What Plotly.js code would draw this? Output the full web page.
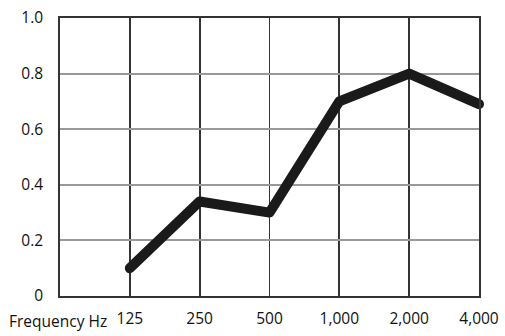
<!DOCTYPE html>
<html>
<head>
<meta charset="utf-8">
<script src="https://cdn.plot.ly/plotly-3.0.1.min.js"></script>
<style>html,body{margin:0;padding:0;background:#fff;}</style>
</head>
<body>
<div id="chart" style="width:505px;height:336px;"></div>
<script>
const frequencies = ["125", "250", "500", "1,000", "2,000", "4,000"];
const absorption = [0.10, 0.34, 0.30, 0.70, 0.80, 0.69];
const yTickVals = [0, 0.2, 0.4, 0.6, 0.8, 1.0];
const yTickText = ["0", "0.2", "0.4", "0.6", "0.8", "1.0"];
const xAxisLabel = "Frequency Hz";

const font = {family: "Open Sans, Noto Sans, sans-serif", size: 15.5, color: "#111"};

Plotly.newPlot("chart", [{
  x: frequencies,
  y: absorption,
  type: "scatter",
  mode: "lines",
  cliponaxis: false,
  line: {color: "#1a1a1a", width: 10},
  hoverinfo: "skip"
}], {
  width: 505, height: 336,
  margin: {l: 60, r: 25.5, t: 18, b: 39.5},
  paper_bgcolor: "#fff", plot_bgcolor: "#fff",
  showlegend: false,
  font: font,
  xaxis: {
    type: "category", range: [-1, 5],
    showgrid: true, gridcolor: "#333", gridwidth: 1.8,
    showline: true, linecolor: "#333", linewidth: 1.8, mirror: true,
    ticks: "", ticklabelstandoff: 8, zeroline: false,
    tickfont: font
  },
  yaxis: {
    range: [0, 1.0], tickvals: yTickVals, ticktext: yTickText,
    showgrid: true, gridcolor: "#999", gridwidth: 2,
    showline: true, linecolor: "#333", linewidth: 1.8, mirror: true,
    ticks: "", ticklabelstandoff: 12, zeroline: false,
    tickfont: font
  },
  annotations: [{
    text: xAxisLabel, xref: "paper", yref: "paper",
    x: -0.127, y: 0, xanchor: "left", yanchor: "top", yshift: -12,
    showarrow: false, font: font
  }]
}, {staticPlot: true}).then(function () {
  document.querySelectorAll(".js-line").forEach(function (p) {
    p.style.strokeLinecap = "round";
    p.style.strokeLinejoin = "round";
    let el = p;
    while (el && el.tagName && el.tagName.toLowerCase() !== "svg") {
      if (el.hasAttribute && el.hasAttribute("clip-path")) el.removeAttribute("clip-path");
      el = el.parentNode;
    }
  });
});
</script>
</body>
</html>
